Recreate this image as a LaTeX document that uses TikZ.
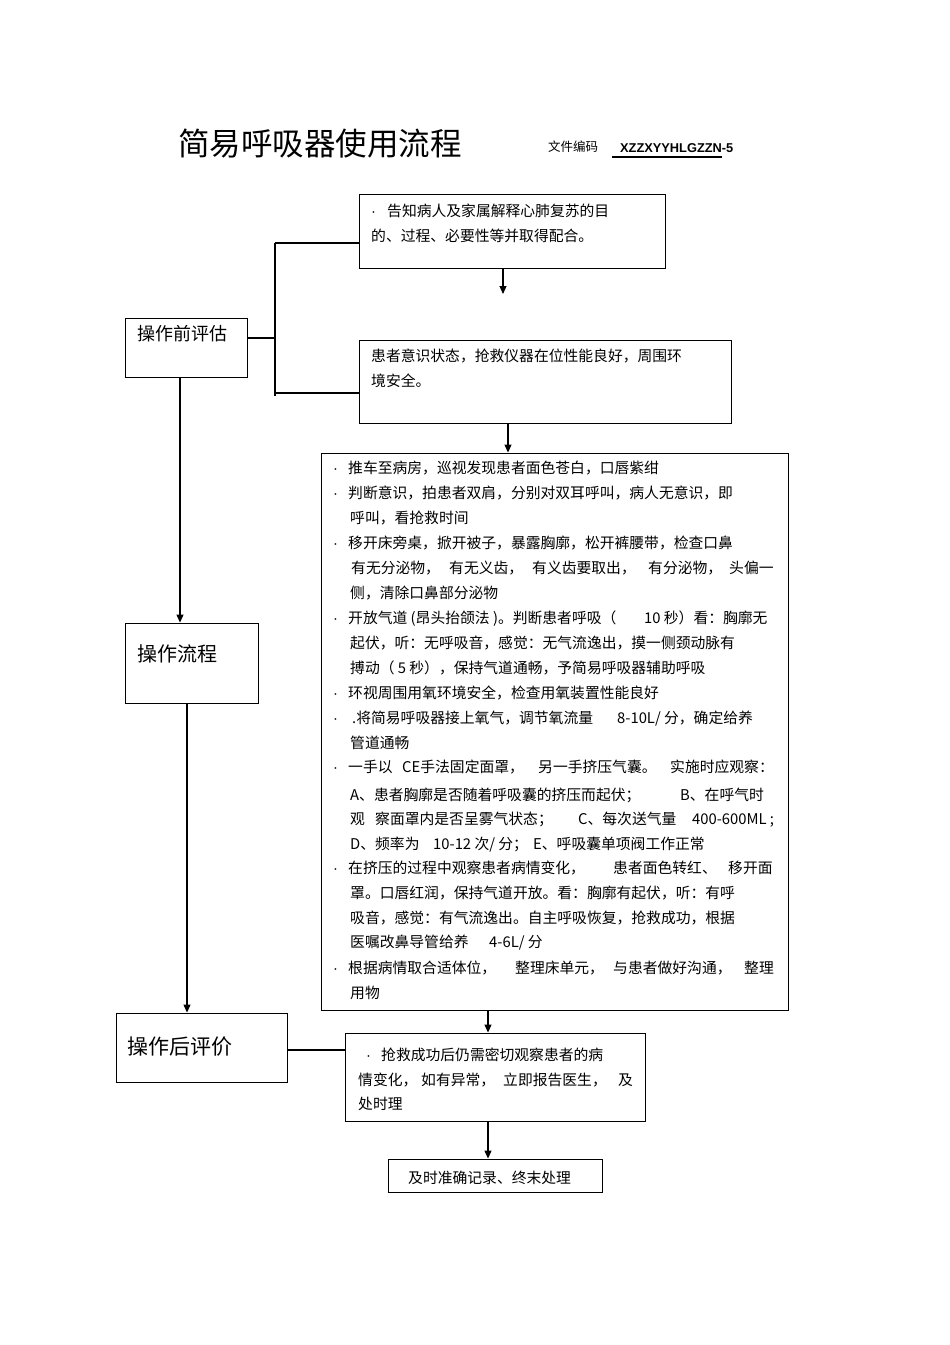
\documentclass[tikz,border=0pt]{standalone}
\usepackage{fontspec}
\setmainfont{Noto Sans CJK SC}
\newfontfamily\codefont{Liberation Sans}
\usetikzlibrary{arrows.meta}
\newcommand\tline[4]{\node[txt] (#1) at (#2,#3+5.6) {#4};}
\newcommand\bdot{{\codefont ·}}
\begin{document}
\begin{tikzpicture}[x=1pt,y=-1pt,
  box/.style={draw, line width=0.9pt, inner sep=0pt, rectangle},
  edgeline/.style={line width=1.6pt},
  conn/.style={line width=1.1pt},
  arr/.style={line width=1.1pt, -{Triangle[length=8pt,width=7pt]}},
  txt/.style={inner sep=0pt, anchor=base west, font=\fontsize{14.8}{17}\selectfont},
]
\useasboundingbox (0,0) rectangle (950,1345);
\fill[white] (0,0) rectangle (950,1345);

% title
\node[inner sep=0pt, anchor=base west, font=\fontsize{31.5}{36}\selectfont] (title) at (178,155) {简易呼吸器使用流程};
\node[inner sep=0pt, anchor=base west, font=\fontsize{12.5}{14}\selectfont] (doclab) at (548,151.8) {文件编码};
\node[inner sep=0pt, anchor=base west, font=\codefont\bfseries\fontsize{12.8}{14}\selectfont] (code) at (620,152.6) {XZZXYYHLGZZN-5};
\coordinate (ul1) at (612,157);
\coordinate (ul2) at (722,157);
\draw[line width=1.1pt] (ul1) -- (ul2);

% boxes
\node[box, minimum width=306pt, minimum height=74pt] (b1) at (512,231) {};
\node[box, minimum width=372pt, minimum height=83pt] (b2) at (545,381.5) {};
\node[box, minimum width=122pt, minimum height=59pt] (pre) at (186,347.5) {};
\node[box, minimum width=133pt, minimum height=80pt] (flow) at (191.5,663) {};
\node[box, minimum width=467pt, minimum height=557pt] (big) at (554.5,731.5) {};
\node[box, minimum width=171pt, minimum height=69pt] (post) at (201.5,1047.5) {};
\node[box, minimum width=300pt, minimum height=88pt] (b5) at (495,1077) {};
\node[box, minimum width=214pt, minimum height=33pt] (fin) at (495,1175.5) {};
\foreach \n in {b1,b2,pre,flow,big,post,b5,fin}
  \draw[edgeline] (\n.south west) -- (\n.south east) -- (\n.north east);

% box labels
\node[inner sep=0pt, anchor=base west, font=\fontsize{18}{20}\selectfont] (pret) at (137,340.8) {操作前评估};
\node[inner sep=0pt, anchor=base west, font=\fontsize{20}{22}\selectfont] (flowt) at (137,661.6) {操作流程};
\node[inner sep=0pt, anchor=base west, font=\fontsize{21}{23}\selectfont] (postt) at (127,1054) {操作后评价};

% box 1 and 2 text
\tline{b1d}{371}{211}{\bdot}
\tline{b1a}{387}{211}{告知病人及家属解释心肺复苏的目}
\tline{b1b}{371}{236}{的、过程、必要性等并取得配合。}
\tline{b2a}{371}{356}{患者意识状态，抢救仪器在位性能良好，周围环}
\tline{b2b}{371}{381}{境安全。}

% big box text
\tline{d1}{333}{468}{\bdot}
\tline{l1}{348}{468}{推车至病房，巡视发现患者面色苍白，口唇紫绀}
\tline{d2}{333}{493}{\bdot}
\tline{l2}{348}{493}{判断意识，拍患者双肩，分别对双耳呼叫，病人无意识，即}
\tline{l3}{350}{518}{呼叫，看抢救时间}
\tline{d4}{333}{543}{\bdot}
\tline{l4}{348}{543}{移开床旁桌，掀开被子，暴露胸廓，松开裤腰带，检查口鼻}
\tline{l5a}{351}{568}{有无分泌物，}
\tline{l5b}{449}{568}{有无义齿，}
\tline{l5c}{532}{568}{有义齿要取出，}
\tline{l5d}{648}{568}{有分泌物，}
\tline{l5e}{729}{568}{头偏一}
\tline{l6}{350}{593}{侧，清除口鼻部分泌物}
\tline{d7}{333}{618}{\bdot}
\tline{l7a}{348}{618}{开放气道 (昂头抬颌法 )。判断患者呼吸（}
\tline{l7b}{644}{618}{10 秒）看：胸廓无}
\tline{l8}{350}{643}{起伏，听：无呼吸音，感觉：无气流逸出，摸一侧颈动脉有}
\tline{l9}{350}{668}{搏动（ 5 秒），保持气道通畅，予简易呼吸器辅助呼吸}
\tline{d10}{333}{693}{\bdot}
\tline{l10}{348}{693}{环视周围用氧环境安全，检查用氧装置性能良好}
\tline{d11}{333}{718}{\bdot}
\tline{l11a}{352}{718}{.将简易呼吸器接上氧气，调节氧流量}
\tline{l11b}{617}{718}{8-10L/ 分，确定给养}
\tline{l12}{350}{743}{管道通畅}
\tline{d13}{333}{767}{\bdot}
\tline{l13a}{348}{767}{一手以}
\tline{l13b}{402}{767}{CE手法固定面罩，}
\tline{l13c}{538}{767}{另一手挤压气囊。}
\tline{l13d}{670}{767}{实施时应观察：}
\tline{l14a}{350}{795}{A、患者胸廓是否随着呼吸囊的挤压而起伏；}
\tline{l14b}{680}{795}{B、在呼气时}
\tline{l15a}{350}{819}{观}
\tline{l15b}{375}{819}{察面罩内是否呈雾气状态；}
\tline{l15c}{578}{819}{C、每次送气量}
\tline{l15d}{692}{819}{400-600ML ;}
\tline{l16a}{350}{844}{D、频率为}
\tline{l16b}{433}{844}{10-12 次/ 分；}
\tline{l16c}{533}{844}{E、呼吸囊单项阀工作正常}
\tline{d17}{333}{868}{\bdot}
\tline{l17a}{348}{868}{在挤压的过程中观察患者病情变化，}
\tline{l17b}{613}{868}{患者面色转红、}
\tline{l17c}{728}{868}{移开面}
\tline{l18}{350}{893}{罩。口唇红润，保持气道开放。看：胸廓有起伏，听：有呼}
\tline{l19}{350}{918}{吸音，感觉：有气流逸出。自主呼吸恢复，抢救成功，根据}
\tline{l20a}{350}{942}{医嘱改鼻导管给养}
\tline{l20b}{489}{942}{4-6L/ 分}
\tline{d21}{333}{968}{\bdot}
\tline{l21a}{348}{968}{根据病情取合适体位，}
\tline{l21b}{515}{968}{整理床单元，}
\tline{l21c}{613}{968}{与患者做好沟通，}
\tline{l21d}{744}{968}{整理}
\tline{l22}{350}{993}{用物}

% box 5 text
\tline{e0}{366}{1055}{\bdot}
\tline{e1}{381}{1055}{抢救成功后仍需密切观察患者的病}
\tline{e2a}{358}{1080}{情变化，}
\tline{e2b}{421}{1080}{如有异常，}
\tline{e2c}{503}{1080}{立即报告医生，}
\tline{e2d}{618}{1080}{及}
\tline{e3}{358}{1104}{处时理}

% final
\tline{fint}{408}{1178}{及时准确记录、终末处理}

% connectors
\coordinate (j0) at (275,338);
\coordinate (j1) at (275,243);
\coordinate (j2) at (275,393);
\coordinate (j3) at (275,396);
\draw[conn] (pre.east |- j0) -- (j0);
\draw[conn] (j1) -- (j3);
\draw[conn] (j1) -- (b1.west |- j1);
\draw[conn] (j2) -- (b2.west |- j2);
\coordinate (k0) at (0,1050);
\draw[conn] (post.east |- k0) -- (b5.west |- k0);

% arrows
\coordinate (a1end) at (503,294);
\coordinate (x508) at (508,0);
\coordinate (x180) at (180,0);
\coordinate (x187) at (187,0);
\coordinate (x488) at (488,0);
\draw[arr] (b1.south -| a1end) -- (a1end);
\draw[arr] (b2.south -| x508) -- (big.north -| x508);
\draw[arr] (pre.south -| x180) -- (flow.north -| x180);
\draw[arr] (flow.south -| x187) -- (post.north -| x187);
\draw[arr] (big.south -| x488) -- (b5.north -| x488);
\draw[arr] (b5.south -| x488) -- (fin.north -| x488);
\end{tikzpicture}
\end{document}
